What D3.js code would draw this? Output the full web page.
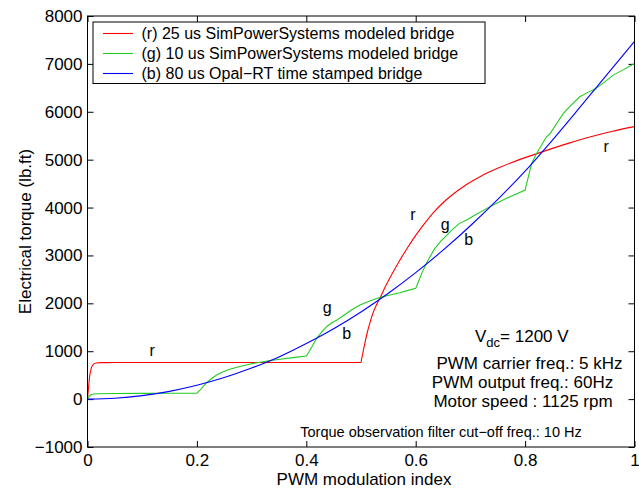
<!DOCTYPE html>
<html>
<head>
<meta charset="utf-8">
<script src="https://cdn.jsdelivr.net/npm/d3@7"></script>
<style>
  html, body { margin: 0; padding: 0; background: #fff; }
  svg { display: block; font-family: "Liberation Sans", Arial, Helvetica, sans-serif; }
</style>
</head>
<body>
<svg id="chart" width="639" height="488"></svg>
<script>
// PWM modulation index vs. electrical torque for three bridge models

// (r) 25 us SimPowerSystems modeled bridge
const redIndex = [0, 0.002, 0.004, 0.007, 0.011, 0.016, 0.025, 0.05, 0.1, 0.2, 0.3, 0.4, 0.5,
  0.501, 0.504, 0.507, 0.511, 0.516, 0.522, 0.528, 0.535, 0.545, 0.557, 0.571, 0.585, 0.6,
  0.615, 0.632, 0.65, 0.663, 0.693, 0.72, 0.754, 0.785, 0.815, 0.846, 0.88, 0.92, 0.96, 1.0];
const redTorque = [0, 250, 480, 650, 730, 755, 762, 763, 763, 763, 763, 763, 763,
  830, 1000, 1165, 1370, 1582, 1800, 1960, 2117, 2360, 2620, 2900, 3160, 3420,
  3650, 3890, 4100, 4230, 4480, 4660, 4840, 4980, 5100, 5220, 5345, 5480, 5595, 5690];

// (g) 10 us SimPowerSystems modeled bridge
const greenIndex = [0, 0.003, 0.007, 0.012, 0.02, 0.05, 0.1, 0.15, 0.2, 0.205, 0.212, 0.218,
  0.227, 0.236, 0.247, 0.26, 0.275, 0.29, 0.305, 0.321, 0.336, 0.352, 0.376, 0.4, 0.405,
  0.412, 0.419, 0.428, 0.437, 0.446, 0.456, 0.47, 0.484, 0.498, 0.516, 0.535, 0.553, 0.571,
  0.586, 0.6, 0.605, 0.611, 0.621, 0.635, 0.646, 0.657, 0.668, 0.68, 0.693, 0.711, 0.73,
  0.748, 0.766, 0.783, 0.8, 0.804, 0.812, 0.821, 0.83, 0.839, 0.846, 0.858, 0.87, 0.885,
  0.9, 0.914, 0.928, 0.945, 0.961, 0.98, 1.0];
const greenTorque = [0, 60, 95, 108, 113, 117, 120, 122, 125, 180, 270, 342,
  430, 503, 565, 622, 670, 712, 750, 781, 808, 831, 866, 900, 990,
  1130, 1269, 1400, 1511, 1590, 1651, 1760, 1870, 1964, 2050, 2125, 2175, 2221,
  2270, 2313, 2450, 2626, 2869, 3148, 3300, 3426, 3550, 3670, 3739, 3860, 3983,
  4090, 4192, 4280, 4365, 4550, 4922, 5131, 5300, 5478, 5549, 5760, 5966, 6150,
  6313, 6400, 6474, 6620, 6766, 6880, 7010];

// (b) 80 us Opal-RT time stamped bridge
const blueIndex = [0, 0.05, 0.1, 0.15, 0.2, 0.25, 0.3, 0.35, 0.4, 0.45, 0.5, 0.55, 0.6,
  0.65, 0.7, 0.75, 0.8, 0.85, 0.9, 0.95, 1.0];
const blueTorque = [0, 18, 72, 162, 288, 450, 648, 880, 1160, 1470, 1820, 2210, 2640,
  3110, 3620, 4170, 4760, 5410, 6090, 6780, 7470];

const seriesNames = ["(r) 25 us SimPowerSystems modeled bridge",
  "(g) 10 us SimPowerSystems modeled bridge",
  "(b) 80 us Opal\u2212RT time stamped bridge"];
const seriesColors = ["#ff0000", "#22cc22", "#0000ff"];

const xTicks = [0, 0.2, 0.4, 0.6, 0.8, 1];
const xTickLabels = ["0", "0.2", "0.4", "0.6", "0.8", "1"];
const yTicks = [-1000, 0, 1000, 2000, 3000, 4000, 5000, 6000, 7000, 8000];

// curve tags placed next to the traces: [letter, index, torque]
const curveTags = [
  ["r", 0.118, 900], ["r", 0.595, 3739], ["r", 0.948, 5158],
  ["g", 0.438, 1797], ["g", 0.654, 3530],
  ["b", 0.474, 1255], ["b", 0.697, 3217]
];

const annotations = [
  "PWM carrier freq.: 5 kHz",
  "PWM output freq.: 60Hz",
  "Motor speed : 1125 rpm"
];

const svg = d3.select("#chart");
const plotLeft = 87.5, plotRight = 634.5, plotTop = 16, plotBottom = 447;

const x = d3.scaleLinear().domain([0, 1]).range([plotLeft, plotRight]);
const y = d3.scaleLinear().domain([-1000, 8000]).range([plotBottom, plotTop]);

// axes with inward ticks on all four sides
const tickLen = 6;
svg.append("g").attr("transform", `translate(0,${plotBottom})`)
  .call(d3.axisBottom(x).tickValues(xTicks).tickFormat((d, i) => xTickLabels[i])
    .tickSizeInner(-tickLen).tickSizeOuter(0).tickPadding(7))
  .call(g => g.select(".domain").remove())
  .call(g => g.selectAll("text").attr("font-size", 17).attr("fill", "#000")
    .attr("font-family", "Liberation Sans, Arial, sans-serif"));
svg.append("g").attr("transform", `translate(0,${plotTop})`)
  .call(d3.axisTop(x).tickValues(xTicks).tickFormat("")
    .tickSizeInner(-tickLen).tickSizeOuter(0))
  .call(g => g.select(".domain").remove());
svg.append("g").attr("transform", `translate(${plotLeft},0)`)
  .call(d3.axisLeft(y).tickValues(yTicks).tickFormat(d3.format("d"))
    .tickSizeInner(-tickLen).tickSizeOuter(0).tickPadding(5))
  .call(g => g.select(".domain").remove())
  .call(g => g.selectAll("text").attr("font-size", 17).attr("fill", "#000")
    .attr("font-family", "Liberation Sans, Arial, sans-serif"));
svg.append("g").attr("transform", `translate(${plotRight},0)`)
  .call(d3.axisRight(y).tickValues(yTicks).tickFormat("")
    .tickSizeInner(-tickLen).tickSizeOuter(0))
  .call(g => g.select(".domain").remove());
svg.selectAll(".tick line").attr("stroke", "#000");

// traces
svg.append("clipPath").attr("id", "plotclip")
  .append("rect").attr("x", plotLeft).attr("y", plotTop)
  .attr("width", plotRight - plotLeft).attr("height", plotBottom - plotTop);

const series = [
  { xs: redIndex, ys: redTorque, curve: d3.curveMonotoneX },
  { xs: greenIndex, ys: greenTorque, curve: d3.curveLinear },
  { xs: blueIndex, ys: blueTorque, curve: d3.curveMonotoneX }
];
const plot = svg.append("g").attr("clip-path", "url(#plotclip)");
series.forEach((s, i) => {
  const pts = s.xs.map((v, k) => [v, s.ys[k]]);
  plot.append("path")
    .attr("d", d3.line().x(d => x(d[0])).y(d => y(d[1])).curve(s.curve)(pts))
    .attr("fill", "none").attr("stroke", seriesColors[i]).attr("stroke-width", 1.1);
});

// frame
svg.append("rect").attr("x", plotLeft).attr("y", plotTop)
  .attr("width", plotRight - plotLeft).attr("height", plotBottom - plotTop)
  .attr("fill", "none").attr("stroke", "#000").attr("stroke-width", 1);

// legend
const legend = svg.append("g");
legend.append("rect").attr("x", 93).attr("y", 22).attr("width", 392).attr("height", 61.5)
  .attr("fill", "#fff").attr("stroke", "#000").attr("stroke-width", 1);
seriesNames.forEach((name, i) => {
  const cy = 33.5 + i * 20;
  legend.append("line").attr("x1", 103).attr("x2", 133).attr("y1", cy).attr("y2", cy)
    .attr("stroke", seriesColors[i]).attr("stroke-width", 1.1);
  legend.append("text").attr("x", 141.5).attr("y", cy).attr("dy", "0.36em")
    .attr("font-size", 16).text(name);
});

// curve tags
svg.append("g").selectAll("text").data(curveTags).join("text")
  .attr("x", d => x(d[1])).attr("y", d => y(d[2]))
  .attr("text-anchor", "middle").attr("font-size", 16).text(d => d[0]);

// operating conditions
const vdc = svg.append("text").attr("x", 475).attr("y", 342).attr("font-size", 17);
vdc.append("tspan").text("V");
vdc.append("tspan").attr("dy", 5).attr("font-size", 13).text("dc");
vdc.append("tspan").attr("dy", -5).text("= 1200 V");

[529.5, 522.5, 523].forEach((cx, i) => {
  svg.append("text").attr("x", cx).attr("y", 368.5 + i * 19)
    .attr("text-anchor", "middle").attr("font-size", 17).text(annotations[i]);
});
svg.append("text").attr("x", 441).attr("y", 437)
  .attr("text-anchor", "middle").attr("font-size", 14.5)
  .text("Torque observation filter cut\u2212off freq.: 10 Hz");

// axis titles
svg.append("text").attr("x", (plotLeft + plotRight) / 2 + 3).attr("y", 485)
  .attr("text-anchor", "middle").attr("font-size", 17).text("PWM modulation index");
svg.append("text").attr("transform", `translate(31,${(plotTop + plotBottom) / 2}) rotate(-90)`)
  .attr("text-anchor", "middle").attr("font-size", 17).text("Electrical torque (lb.ft)");
</script>
</body>
</html>
